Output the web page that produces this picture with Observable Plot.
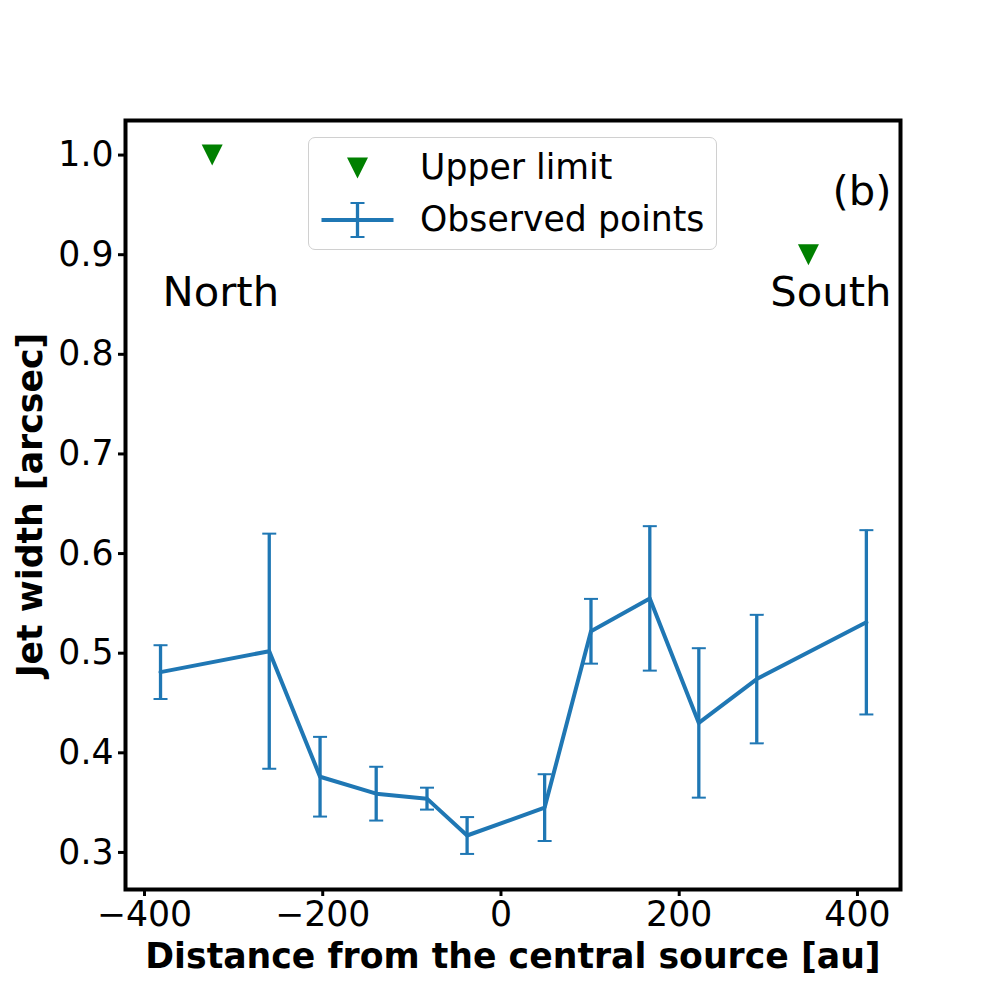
<!DOCTYPE html>
<html>
<head>
<meta charset="utf-8">
<script src="https://cdn.jsdelivr.net/npm/d3@7"></script>
<script src="https://cdn.jsdelivr.net/npm/@observablehq/plot@0.6"></script>
<style>
  html, body { margin: 0; padding: 0; background: #fff; }
  #wrap { position: relative; width: 1000px; height: 1000px; font-family: "DejaVu Sans", sans-serif; }
  #legend {
    position: absolute; left: 308px; top: 137px; width: 407px; height: 111px;
    border: 1px solid #d0d0d0; border-radius: 7px; background: rgba(255,255,255,0.8);
    display: flex; flex-direction: column; justify-content: center; gap: 4px;
    font-size: 34.7px; color: #000; box-sizing: content-box;
  }
  .row { display: flex; align-items: center; height: 48px; }
  .row svg { margin-left: 11px; margin-right: 25px; flex: none; }
  .row span { line-height: 1; }
</style>
</head>
<body>
<div id="wrap">
  <div id="chart"></div>
  <div id="legend">
    <div class="row">
      <svg width="75" height="40" viewBox="-37.5 -20 75 40"><path d="M-10.5,-10.5L10.5,-10.5L0,10.5Z" fill="#008000"/></svg>
      <span>Upper limit</span>
    </div>
    <div class="row">
      <svg width="75" height="40" viewBox="-37.5 -20 75 40">
        <line x1="-36" x2="36" y1="0" y2="0" stroke="#1f77b4" stroke-width="4"/>
        <line x1="0" x2="0" y1="-17" y2="17" stroke="#1f77b4" stroke-width="3.3"/>
        <line x1="-7" x2="7" y1="-17" y2="-17" stroke="#1f77b4" stroke-width="2"/>
        <line x1="-7" x2="7" y1="17" y2="17" stroke="#1f77b4" stroke-width="2"/>
      </svg>
      <span>Observed points</span>
    </div>
  </div>
</div>
<script>
// ---- Data ----
const distance = [-382, -260, -203, -140, -83, -38, 49, 101, 167, 222, 287, 410];   // au
const jetWidth = [0.481, 0.502, 0.376, 0.359, 0.354, 0.317, 0.345, 0.522, 0.555, 0.430, 0.474, 0.531]; // arcsec
const widthErr = [0.027, 0.118, 0.040, 0.027, 0.011, 0.0185, 0.0335, 0.0325, 0.0725, 0.075, 0.0645, 0.0925];

const limitDistance = [-324, 345];
const limitWidth = [1.0, 0.9];

const xTicks = [-400, -200, 0, 200, 400];
const yTicks = [0.3, 0.4, 0.5, 0.6, 0.7, 0.8, 0.9, 1.0];

const xLabel = "Distance from the central source [au]";
const yLabel = "Jet width [arcsec]";
const annotations = ["North", "South", "(b)"];

// ---- Build tables ----
const observed = distance.map((d, i) => ({x: d, y: jetWidth[i], lo: jetWidth[i] - widthErr[i], hi: jetWidth[i] + widthErr[i]}));
const limits = limitDistance.map((d, i) => ({x: d, y: limitWidth[i]}));

// custom symbols
const hline = {draw(ctx, size) { const w = Math.sqrt(size / Math.PI); ctx.moveTo(-w, 0); ctx.lineTo(w, 0); }};
const triDown = {draw(ctx, size) { const h = Math.sqrt(size / Math.PI); ctx.moveTo(-h, -h); ctx.lineTo(h, -h); ctx.lineTo(0, h); ctx.closePath(); }};

const blue = "#1f77b4";
const fmtX = d => d < 0 ? "\u2212" + Math.abs(d) : String(d);

const chart = Plot.plot({
  width: 1000,
  height: 1000,
  marginLeft: 125,
  marginRight: 100,
  marginTop: 120,
  marginBottom: 111,
  style: {fontFamily: "DejaVu Sans", background: "white", color: "black"},
  x: {domain: [-421.3, 448.3]},
  y: {domain: [0.2628, 1.0347]},
  marks: [
    Plot.axisX({ticks: xTicks, tickFormat: fmtX, tickSize: 7, tickPadding: 5, fontSize: 34.7, strokeWidth: 3, label: null}),
    Plot.axisY({ticks: yTicks, tickFormat: d3.format(".1f"), tickSize: 7, tickPadding: 5, fontSize: 34.7, strokeWidth: 3, label: null}),
    Plot.ruleX(observed, {x: "x", y1: "lo", y2: "hi", stroke: blue, strokeWidth: 3.3}),
    Plot.dot(observed, {x: "x", y: "lo", symbol: hline, r: 7, stroke: blue, strokeWidth: 2, fill: "none"}),
    Plot.dot(observed, {x: "x", y: "hi", symbol: hline, r: 7, stroke: blue, strokeWidth: 2, fill: "none"}),
    Plot.line(observed, {x: "x", y: "y", stroke: blue, strokeWidth: 4}),
    Plot.dot(limits, {x: "x", y: "y", symbol: triDown, r: 10.5, fill: "#008000", stroke: "none"}),
    Plot.text([annotations[0]], {frameAnchor: "top-left", text: d => d, dx: 37, dy: 185, textAnchor: "start", lineAnchor: "bottom", fontSize: 41.7}),
    Plot.text([annotations[1]], {frameAnchor: "top-right", text: d => d, dx: -9, dy: 185, textAnchor: "end", lineAnchor: "bottom", fontSize: 41.7}),
    Plot.text([annotations[2]], {frameAnchor: "top-right", text: d => d, dx: -9, dy: 84, textAnchor: "end", lineAnchor: "bottom", fontSize: 41.7}),
    Plot.text([xLabel], {frameAnchor: "bottom", text: d => d, dy: 78, lineAnchor: "bottom", fontSize: 34.7, fontWeight: "bold"}),
    Plot.text([yLabel], {frameAnchor: "left", text: d => d, dx: -95, rotate: -90, textAnchor: "middle", lineAnchor: "middle", fontSize: 34.7, fontWeight: "bold"}),
    Plot.frame({stroke: "black", strokeWidth: 4})
  ]
});
document.getElementById("chart").appendChild(chart);
</script>
</body>
</html>
